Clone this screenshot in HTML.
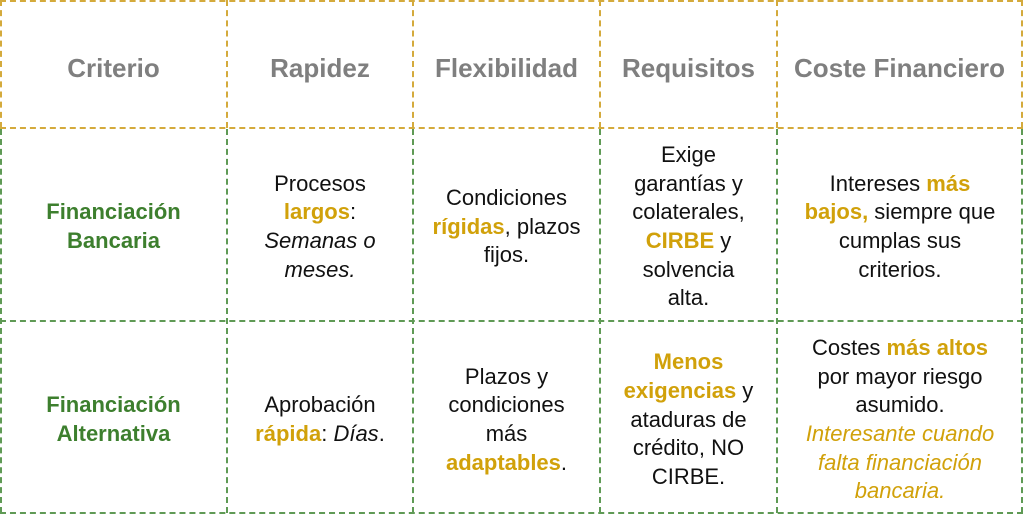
<!DOCTYPE html>
<html><head><meta charset="utf-8"><style>
html,body{margin:0;padding:0;background:#fff;width:1024px;height:518px;overflow:hidden}
body{position:relative;font-family:"Liberation Sans",sans-serif}
.c{position:absolute;display:flex;align-items:center;justify-content:center;text-align:center;font-size:22px;line-height:28.7px;color:#111;padding-top:6px;box-sizing:border-box}
.h{color:#7f7f7f;font-weight:bold;font-size:26px;padding-top:8px}
.g{color:#3d7f2e;font-weight:bold}
.y{color:#d1a10a;font-weight:bold}
.yi{color:#d1a10a;font-style:italic}
.v{position:absolute;width:0;border-left:2px dashed}
.hl{position:absolute;height:0;border-top:2px dashed}
</style></head><body>
<div class="hl" style="left:0;top:0;width:1023px;border-color:#d4aa3c"></div>
<div class="hl" style="left:0;top:127px;width:1023px;border-color:#d4aa3c"></div>
<div class="v" style="left:0;top:0;height:128px;border-color:#d4aa3c"></div>
<div class="v" style="left:226px;top:0;height:128px;border-color:#d4aa3c"></div>
<div class="v" style="left:412px;top:0;height:128px;border-color:#d4aa3c"></div>
<div class="v" style="left:599px;top:0;height:128px;border-color:#d4aa3c"></div>
<div class="v" style="left:776px;top:0;height:128px;border-color:#d4aa3c"></div>
<div class="v" style="left:1021px;top:0;height:128px;border-color:#d4aa3c"></div>
<div class="hl" style="left:0;top:320px;width:1023px;border-color:#5f9a55"></div>
<div class="hl" style="left:0;top:512px;width:1023px;border-color:#5f9a55"></div>
<div class="v" style="left:0;top:129px;height:384px;border-color:#5f9a55"></div>
<div class="v" style="left:226px;top:129px;height:384px;border-color:#5f9a55"></div>
<div class="v" style="left:412px;top:129px;height:384px;border-color:#5f9a55"></div>
<div class="v" style="left:599px;top:129px;height:384px;border-color:#5f9a55"></div>
<div class="v" style="left:776px;top:129px;height:384px;border-color:#5f9a55"></div>
<div class="v" style="left:1021px;top:129px;height:384px;border-color:#5f9a55"></div>

<div class="c h" style="left:0;top:0;width:227px;height:128px">Criterio</div>
<div class="c h" style="left:227px;top:0;width:186px;height:128px">Rapidez</div>
<div class="c h" style="left:413px;top:0;width:187px;height:128px">Flexibilidad</div>
<div class="c h" style="left:600px;top:0;width:177px;height:128px">Requisitos</div>
<div class="c h" style="left:777px;top:0;width:245px;height:128px;white-space:nowrap">Coste Financiero</div>

<div class="c g" style="left:0;top:128px;width:227px;height:192px">Financiación<br>Bancaria</div>
<div class="c" style="left:236px;top:128px;width:168px;height:192px"><div>Procesos<br><span class="y">largos</span>:<br><i>Semanas o<br>meses.</i></div></div>
<div class="c" style="left:413px;top:128px;width:187px;height:192px;white-space:nowrap"><div>Condiciones<br><span class="y">rígidas</span>, plazos<br>fijos.</div></div>
<div class="c" style="left:601px;top:128px;width:175px;height:192px"><div>Exige<br>garantías y<br>colaterales,<br><span class="y">CIRBE</span> y<br>solvencia<br>alta.</div></div>
<div class="c" style="left:778px;top:128px;width:244px;height:192px;white-space:nowrap"><div>Intereses <span class="y">más<br>bajos,</span> siempre que<br>cumplas sus<br>criterios.</div></div>

<div class="c g" style="left:0;top:321px;width:227px;height:192px">Financiación<br>Alternativa</div>
<div class="c" style="left:228px;top:321px;width:184px;height:192px;white-space:nowrap"><div>Aprobación<br><span class="y">rápida</span>: <i>Días</i>.</div></div>
<div class="c" style="left:413px;top:321px;width:187px;height:192px"><div>Plazos y<br>condiciones<br>más<br><span class="y">adaptables</span>.</div></div>
<div class="c" style="left:601px;top:321px;width:175px;height:192px;white-space:nowrap"><div><span class="y">Menos<br>exigencias</span> y<br>ataduras de<br>crédito, NO<br>CIRBE.</div></div>
<div class="c" style="left:778px;top:321px;width:244px;height:192px;white-space:nowrap"><div>Costes <span class="y">más altos</span><br>por mayor riesgo<br>asumido.<br><span class="yi">Interesante cuando<br>falta financiación<br>bancaria.</span></div></div>
</body></html>
